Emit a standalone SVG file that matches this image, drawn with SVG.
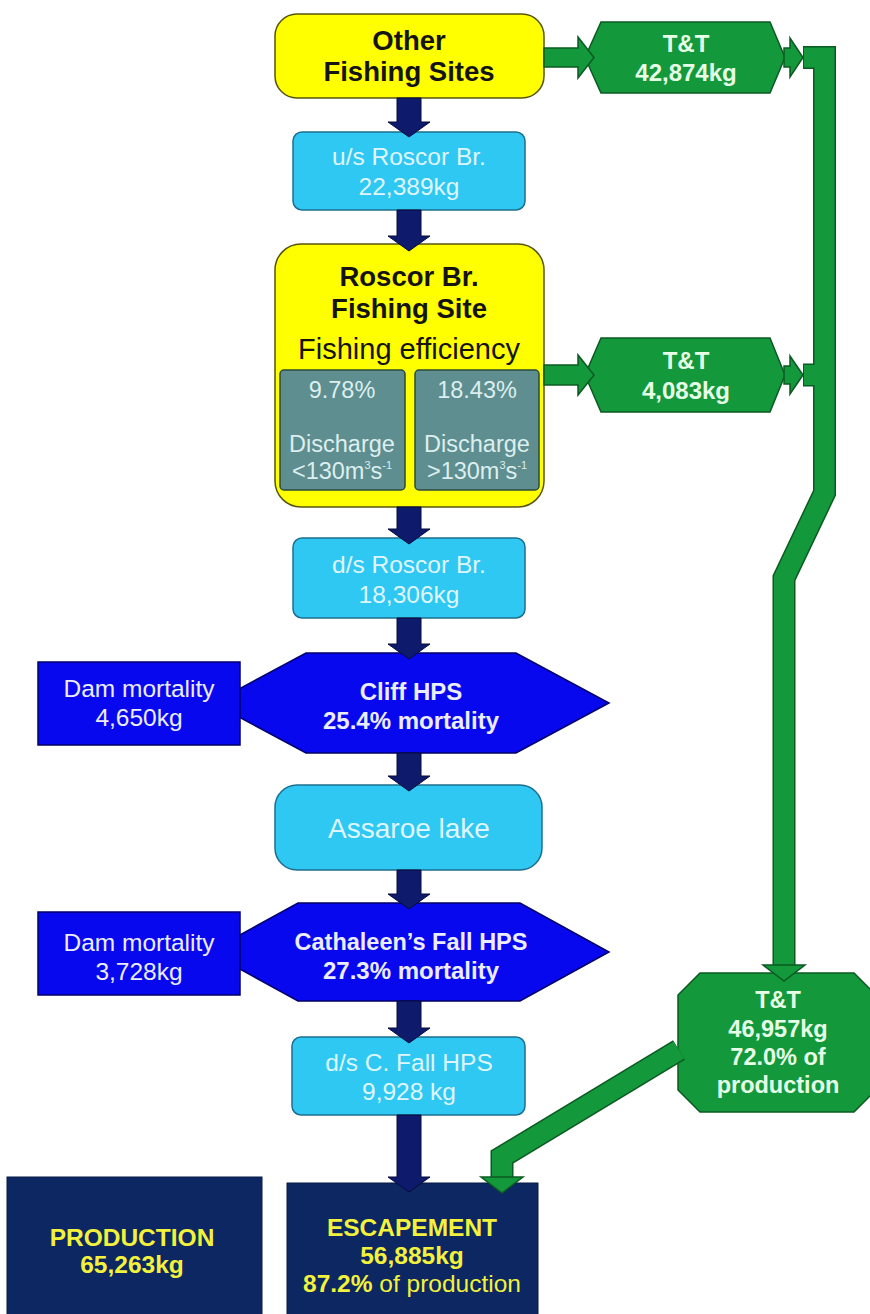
<svg xmlns="http://www.w3.org/2000/svg" width="870" height="1314" viewBox="0 0 870 1314">
<defs>
<style>
.yel{fill:#ffff00;stroke:#55550f;stroke-width:1.5}
.cyan{fill:#2fc8f2;stroke:#1c6f90;stroke-width:1.5}
.inner{fill:#5e8e90;stroke:#2c4a3a;stroke-width:1.5}
.blue{fill:#0808ee;stroke:#00006a;stroke-width:1.5}
.navy{fill:#0c2761;stroke:#081a45;stroke-width:1}
.grn{fill:#13983b;stroke:#0b5a22;stroke-width:1.5}
.arr{fill:#0e1a6c;stroke:#060b3a;stroke-width:1}
.t{font-family:"Liberation Sans",Arial,sans-serif;text-anchor:middle}
.b{font-weight:bold}
.dark{fill:#141414}
.lc{fill:#dff6ff}
.li{fill:#dcefee}
.lb{fill:#ececff}
.lg{fill:#e6ffe6}
.ly{fill:#f2f23c}
.barO{fill:none;stroke:#0b5a22;stroke-width:23;stroke-linejoin:miter}
.barI{fill:none;stroke:#13983b;stroke-width:20;stroke-linejoin:miter}
</style>
</defs>
<rect width="870" height="1314" fill="#ffffff"/>

<g id="other">
<rect class="yel" x="275" y="14" width="269" height="84" rx="22"/>
<text class="t b dark" x="409" y="50" font-size="27.5">Other</text>
<text class="t b dark" x="409" y="81" font-size="27.5">Fishing Sites</text>
</g>

<g id="us_roscor">
<rect class="cyan" x="293" y="132" width="232" height="78" rx="9"/>
<text class="t lc" x="409" y="165" font-size="24.5">u/s Roscor Br.</text>
<text class="t lc" x="409" y="195" font-size="24.5">22,389kg</text>
</g>

<g id="roscor_site">
<rect class="yel" x="275" y="244" width="269" height="263" rx="26"/>
<text class="t b dark" x="409" y="286" font-size="27.5">Roscor Br.</text>
<text class="t b dark" x="409" y="318" font-size="27.5">Fishing Site</text>
<text class="t dark" x="409" y="359" font-size="29">Fishing efficiency</text>
<rect class="inner" x="280" y="370" width="125" height="120" rx="4"/>
<rect class="inner" x="415" y="370" width="124" height="120" rx="4"/>
<text class="t li" x="342" y="398" font-size="23.5">9.78%</text>
<text class="t li" x="342" y="452" font-size="23.5">Discharge</text>
<text class="t li" x="342" y="479" font-size="23.5">&lt;130m<tspan font-size="11" dy="-10">3</tspan><tspan dy="10">s</tspan><tspan font-size="11" dy="-10">-1</tspan></text>
<text class="t li" x="477" y="398" font-size="23.5">18.43%</text>
<text class="t li" x="477" y="452" font-size="23.5">Discharge</text>
<text class="t li" x="477" y="479" font-size="23.5">&gt;130m<tspan font-size="11" dy="-10">3</tspan><tspan dy="10">s</tspan><tspan font-size="11" dy="-10">-1</tspan></text>
</g>

<g id="ds_roscor">
<rect class="cyan" x="293" y="538" width="232" height="80" rx="9"/>
<text class="t lc" x="409" y="573" font-size="24.5">d/s Roscor Br.</text>
<text class="t lc" x="409" y="603" font-size="24.5">18,306kg</text>
</g>

<g id="cliff_hps">
<polygon class="blue" points="306,653 516,653 609,703 516,753 306,753 213,703"/>
<text class="t b lb" x="411" y="700" font-size="24">Cliff HPS</text>
<text class="t b lb" x="411" y="729" font-size="24">25.4% mortality</text>
</g>

<g id="dam1">
<rect class="blue" x="38" y="662" width="202" height="83"/>
<text class="t lb" x="139" y="697" font-size="24.5">Dam mortality</text>
<text class="t lb" x="139" y="726" font-size="24.5">4,650kg</text>
</g>

<g id="assaroe">
<rect class="cyan" x="275" y="785" width="267" height="85" rx="22"/>
<text class="t lc" x="409" y="838" font-size="28">Assaroe lake</text>
</g>

<g id="cathaleen_hps">
<polygon class="blue" points="298,903 520,903 609,952 520,1001 298,1001 209,952"/>
<text class="t b lb" x="411" y="950" font-size="23.5">Cathaleen’s Fall HPS</text>
<text class="t b lb" x="411" y="979" font-size="24">27.3% mortality</text>
</g>

<g id="dam2">
<rect class="blue" x="38" y="912" width="202" height="83"/>
<text class="t lb" x="139" y="951" font-size="24.5">Dam mortality</text>
<text class="t lb" x="139" y="980" font-size="24.5">3,728kg</text>
</g>

<g id="ds_cfall">
<rect class="cyan" x="292" y="1037" width="233" height="78" rx="9"/>
<text class="t lc" x="409" y="1071" font-size="24.5">d/s C. Fall HPS</text>
<text class="t lc" x="409" y="1100" font-size="24.5">9,928 kg</text>
</g>

<g id="tt1">
<polygon class="grn" points="601,22 770,22 785,57.5 770,93 601,93 585,57.5"/>
<text class="t b lg" x="686" y="52" font-size="24">T&amp;T</text>
<text class="t b lg" x="686" y="81" font-size="24">42,874kg</text>
</g>

<g id="tt2">
<polygon class="grn" points="601,338 770,338 785,375 770,412 601,412 585,375"/>
<text class="t b lg" x="686" y="369" font-size="24">T&amp;T</text>
<text class="t b lg" x="686" y="399" font-size="24">4,083kg</text>
</g>

<g id="tt_total">
<polygon class="grn" points="700,973 854,973 876,995 876,1090 854,1112 700,1112 678,1090 678,995"/>
<text class="t b lg" x="778" y="1008" font-size="23.5">T&amp;T</text>
<text class="t b lg" x="778" y="1037" font-size="23.5">46,957kg</text>
<text class="t b lg" x="778" y="1065" font-size="23.5">72.0% of</text>
<text class="t b lg" x="778" y="1093" font-size="23.5">production</text>
</g>

<g id="production">
<rect class="navy" x="7" y="1177" width="255" height="145"/>
<text class="t b ly" x="132" y="1246" font-size="24.5">PRODUCTION</text>
<text class="t b ly" x="132" y="1273" font-size="24.5">65,263kg</text>
</g>

<g id="escapement">
<rect class="navy" x="287" y="1183" width="251" height="140"/>
<text class="t b ly" x="412" y="1236" font-size="24.5">ESCAPEMENT</text>
<text class="t b ly" x="412" y="1264" font-size="24.5">56,885kg</text>
<text class="t ly" x="412" y="1292" font-size="24.5"><tspan font-weight="bold">87.2%</tspan> of production</text>
</g>

<g id="connectors">
<polygon class="arr" points="397,98 421,98 421,122 430,122 409,137 388,122 397,122"/>
<polygon class="arr" points="397,210 421,210 421,236 430,236 409,251 388,236 397,236"/>
<polygon class="arr" points="397,507 421,507 421,529 430,529 409,544 388,529 397,529"/>
<polygon class="arr" points="397,618 421,618 421,644 430,644 409,659 388,644 397,644"/>
<polygon class="arr" points="397,753 421,753 421,776 430,776 409,791 388,776 397,776"/>
<polygon class="arr" points="397,870 421,870 421,894 430,894 409,909 388,894 397,894"/>
<polygon class="arr" points="397,1001 421,1001 421,1028 430,1028 409,1043 388,1028 397,1028"/>
<polygon class="arr" points="397,1115 421,1115 421,1177 430,1177 409,1192 388,1177 397,1177"/>
<polygon class="grn" points="544,48 578,48 578,37 594,57.5 578,78 578,67 544,67"/>
<polygon class="grn" points="544,365 578,365 578,355 594,375 578,395 578,385 544,385"/>
<polygon class="grn" points="784,48 790,48 790,38 803,57.5 790,77 790,67 784,67"/>
<polygon class="grn" points="784,366 790,366 790,356 803,375 790,394 790,384 784,384"/>
<path class="barO" d="M803,57.5 H824.5 V493 L784,578 V966 M803,375 H824"/>
<path class="barI" d="M804,57.5 H824.5 V493 L784,578 V967 M804,375 H824"/>
<polygon class="grn" points="763,965 805,965 784,981"/>
<path class="barO" d="M679,1050 L502,1157 V1178"/>
<path class="barI" d="M679,1050 L502,1157 V1179"/>
<polygon class="grn" points="481,1177 523,1177 502,1193"/>
</g>
</svg>
